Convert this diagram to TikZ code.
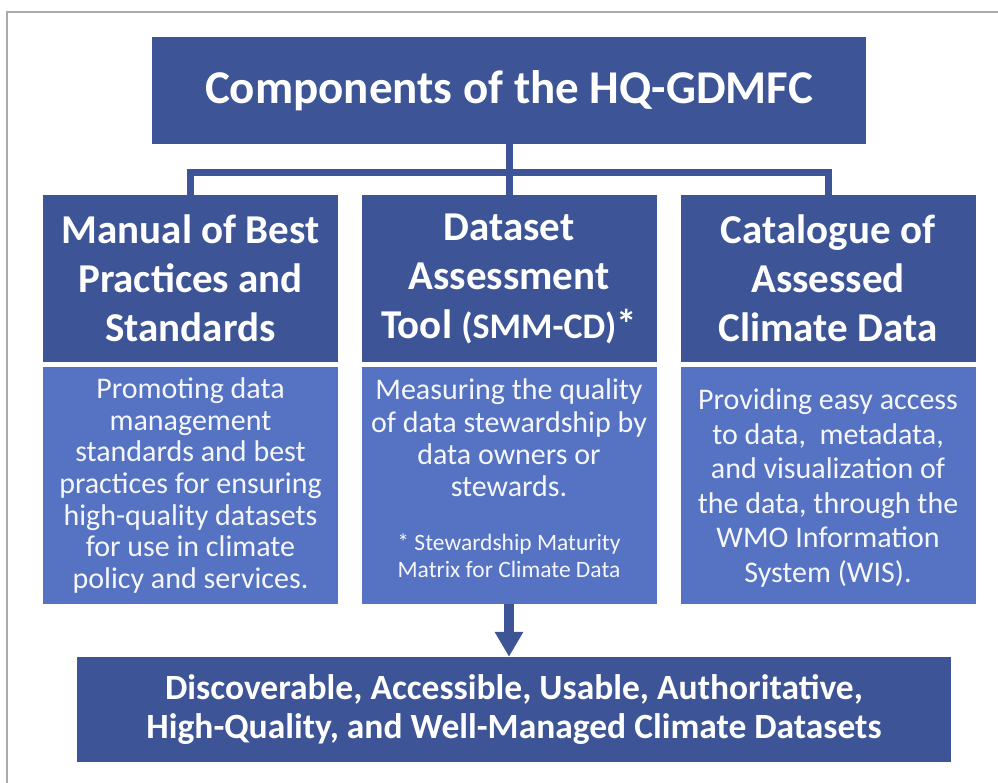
\documentclass[tikz,border=0pt]{standalone}
\usepackage{fontspec}
\setmainfont{Carlito}
\usetikzlibrary{arrows.meta}
\definecolor{hqdark}{HTML}{3D5596}
\definecolor{hqlight}{HTML}{5572C3}
\definecolor{framegray}{HTML}{AAAAAA}
\tikzset{
	headbox/.style={fill=hqdark, text=white, minimum width=295pt, minimum height=167pt,
		inner sep=0pt, align=center, font=\fontsize{41}{49}\selectfont\bfseries},
	bodybox/.style={fill=hqlight, text=white!94!hqlight, minimum width=295pt, minimum height=237pt,
		inner sep=0pt, align=center, font=\fontsize{30}{31.7}\selectfont},
	busline/.style={draw=hqdark, line width=7pt},
	downarrow/.style={draw=hqdark, line width=10pt, -{Triangle[length=25pt,width=27pt]}},
}
\newcommand\notefont{\fontsize{23.5}{27}\selectfont}
\begin{document}
\begin{tikzpicture}[x=1pt,y=-1pt]
		\useasboundingbox (0,0) rectangle (998,783);
		\draw[framegray, line width=2pt] (7,783) -- (7,12) -- (998,12);
		% title
		\node[fill=hqdark, text=white, minimum width=714pt, minimum height=107pt, inner sep=0pt,
			font=\fontsize{47}{56}\selectfont\bfseries] (title) at (509,90.5) {Components of the HQ-GDMFC};
		% three columns
		\node[headbox] (headL) at (190.5,278.5) {Manual of Best\\Practices and\\Standards};
		\node[headbox] (headM) at (509,278.5) {Dataset\\Assessment\\Tool {\fontsize{36}{49}\selectfont(SMM-CD)}*};
		\node[headbox] (headR) at (828,278.5) {Catalogue of\\Assessed\\Climate Data};
		\node[bodybox] (bodyL) at (190.5,485.5) {Promoting data\\management\\standards and best\\practices for ensuring\\high-quality datasets\\for use in climate\\policy and services.};
		\node[bodybox, font=\fontsize{30}{32.3}\selectfont, text depth=15pt] (bodyM) at (509,485.5) {Measuring the quality\\of data stewardship by\\data owners or\\stewards.\\[21pt]
			{\notefont * Stewardship Maturity}\\[-5.3pt]{\notefont Matrix for Climate Data}};
		\node[bodybox, font=\fontsize{30}{34.6}\selectfont, text depth=0pt] (bodyR) at (828,485.5) {Providing easy access\\to data,\ \ metadata,\\and visualization of\\the data, through the\\WMO Information\\System (WIS).};
		% result
		\node[fill=hqdark, text=white, minimum width=874pt, minimum height=105pt, inner sep=0pt, align=center,
			font=\fontsize{35.5}{39}\selectfont\bfseries] (goal) at (514,709.5)
			{Discoverable, Accessible, Usable, Authoritative,\\High-Quality, and Well-Managed Climate Datasets};
		% connectors
		\coordinate (bus) at (509,172.5);
		\draw[busline] (title.south) -- (headM.north);
		\draw[busline] (headL.north) |- (bus) -| (headR.north);
		\draw[downarrow] (bodyM.south) -- (bodyM.south |- goal.north);
	\end{tikzpicture}
\end{document}
